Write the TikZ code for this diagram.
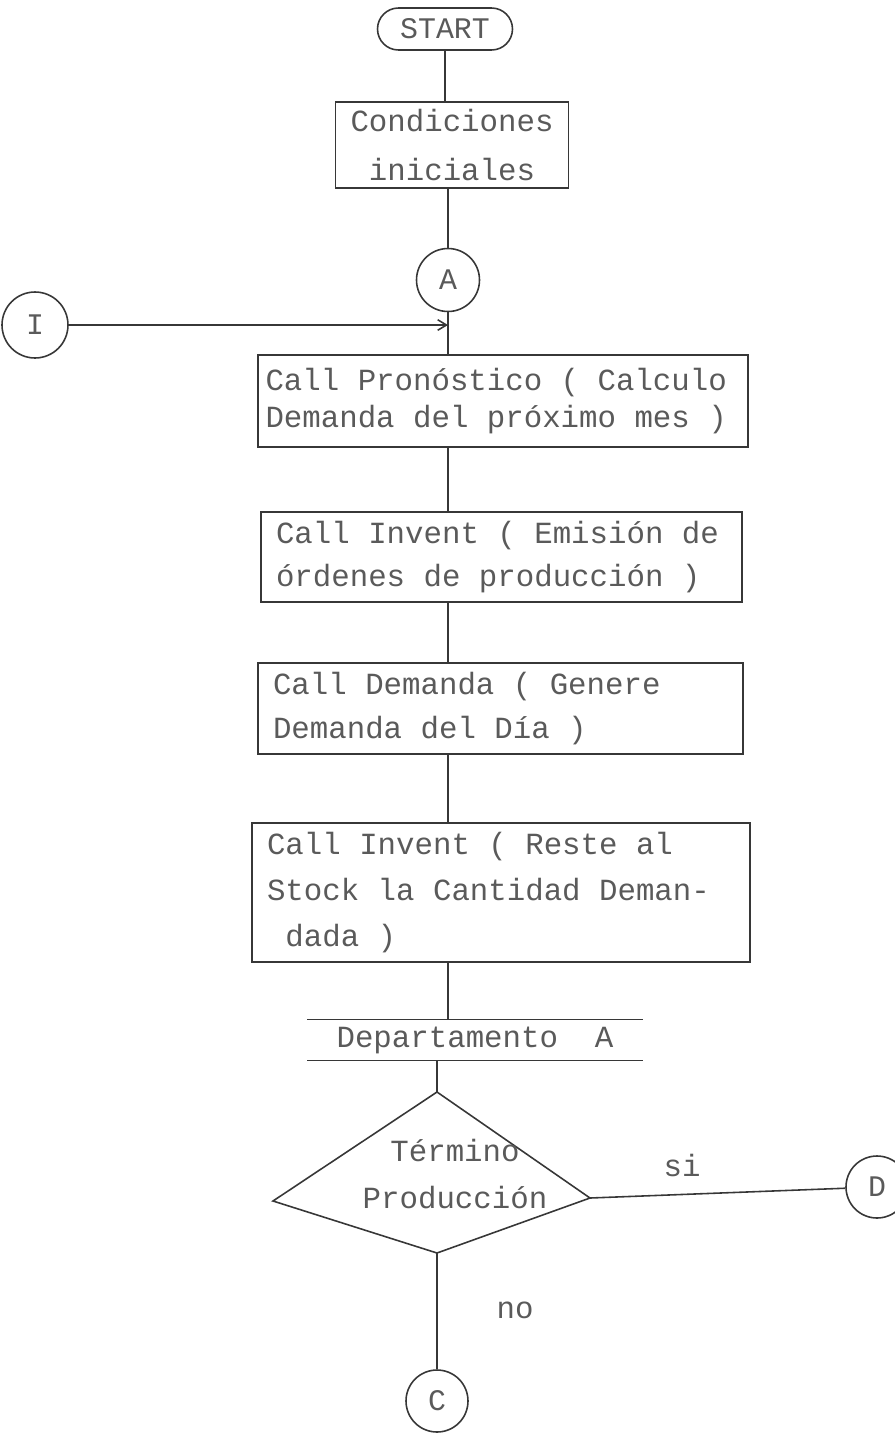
\documentclass[tikz,border=0pt]{standalone}
\usepackage{fontspec}
\setmonofont{Liberation Mono}[WordSpace={1,0,0}, PunctuationSpace=WordSpace]
\definecolor{inkgray}{RGB}{55, 55, 55}
\definecolor{typegray}{RGB}{90, 90, 90}
\usetikzlibrary{arrows.meta, positioning, calc}

\tikzset{
  flowbox/.style={draw=inkgray, line width=0.9pt, text=typegray, align=left, inner xsep=0.3cm, font=\ttfamily\fontsize{17.5}{24}\selectfont,
    execute at begin node={\spaceskip=\fontdimen2\font\xspaceskip=\fontdimen2\font}},
  terminal/.style={draw=inkgray, line width=0.9pt, text=typegray, rounded corners=0.42cm, minimum width=2.7cm, minimum height=0.84cm, font=\ttfamily\fontsize{17}{18}\selectfont},
  connector/.style={draw=inkgray, circle, line width=0.9pt, text=typegray, minimum size=1.26cm, inner sep=0pt, font=\ttfamily\fontsize{17}{18}\selectfont},
  flowline/.style={draw=inkgray, line width=0.9pt},
  edgetext/.style={text=typegray, font=\ttfamily\fontsize{17.5}{20}\selectfont}
}

\begin{document}
\begin{tikzpicture}
  \useasboundingbox (0,0) rectangle (17.9,-28.66);

  % Start and initial conditions
  \node[terminal] (start) at (8.90, -0.58) {START};
  \node[flowbox, align=center, minimum width=4.64cm, minimum height=1.72cm, font=\ttfamily\fontsize{17.5}{28}\selectfont] (cond) at (9.04, -2.90) {Condiciones\\iniciales};

  \node[connector] (A) at (8.96, -5.60) {A};
  \node[connector, minimum size=1.32cm] (I) at (0.70, -6.50) {I};

  % Calls
  \node[flowbox, text width=9.5cm, inner xsep=0.15cm, minimum height=1.84cm, font=\ttfamily\fontsize{17.5}{21}\selectfont] (p1) at (10.06, -8.02) {Call Pronóstico ( Calculo\\Demanda del próximo mes )};
  \node[flowbox, text width=9.02cm, minimum height=1.80cm] (p2) at (10.03, -11.14) {Call Invent ( Emisión de\\órdenes de producción )};
  \node[flowbox, text width=9.1cm, minimum height=1.82cm, font=\ttfamily\fontsize{17.5}{25}\selectfont] (p3) at (10.01, -14.17) {Call Demanda ( Genere\\Demanda del Día )};
  \node[flowbox, text width=9.36cm, minimum height=2.78cm, font=\ttfamily\fontsize{17.5}{26}\selectfont] (p4) at (10.02, -17.85) {Call Invent ( Reste al\\Stock la Cantidad Deman-\\\ dada )};

  % Departamento A
  \node[edgetext, minimum width=6.7cm, minimum height=0.8cm, inner sep=0pt] (dept) at (9.50, -20.80) {Departamento\ \ A};
  \draw[flowline] (dept.north west) -- (dept.north east);
  \draw[flowline] (dept.south west) -- (dept.south east);

  % Decision
  \coordinate (dtop) at (8.74, -21.84);
  \coordinate (dleft) at (5.46, -24.02);
  \coordinate (dright) at (11.80, -23.96);
  \coordinate (dbot) at (8.74, -25.06);
  \draw[flowline] (dtop) -- (dright) -- (dbot) -- (dleft) -- cycle;
  \node[edgetext, align=center, font=\ttfamily\fontsize{17.5}{27}\selectfont] (ask) at (9.10, -23.48) {Término\\Producción};

  \node[connector, minimum size=1.24cm] (D) at (17.54, -23.74) {D};
  \node[connector, minimum size=1.24cm] (C) at (8.74, -28.02) {C};

  % Lines
  \draw[flowline] (start.south) -- (start.south |- cond.north);
  \draw[flowline] (A |- cond.south) -- (A);
  \draw[flowline] (A) -- (A |- p1.north);
  \draw[flowline, -{Straight Barb[length=5pt, width=6pt]}] (I) -- (I -| A);
  \draw[flowline] (A |- p1.south) -- (A |- p2.north);
  \draw[flowline] (A |- p2.south) -- (A |- p3.north);
  \draw[flowline] (A |- p3.south) -- (A |- p4.north);
  \draw[flowline] (A |- p4.south) -- (A |- dept.north);
  \draw[flowline] (dtop |- dept.south) -- (dtop);
  \draw[flowline] (dright) -- (D);
  \draw[flowline] (dbot) -- (C);

  \node[edgetext] (si) at (13.64, -23.30) {si};
  \node[edgetext] (no) at (10.30, -26.20) {no};
\end{tikzpicture}
\end{document}
